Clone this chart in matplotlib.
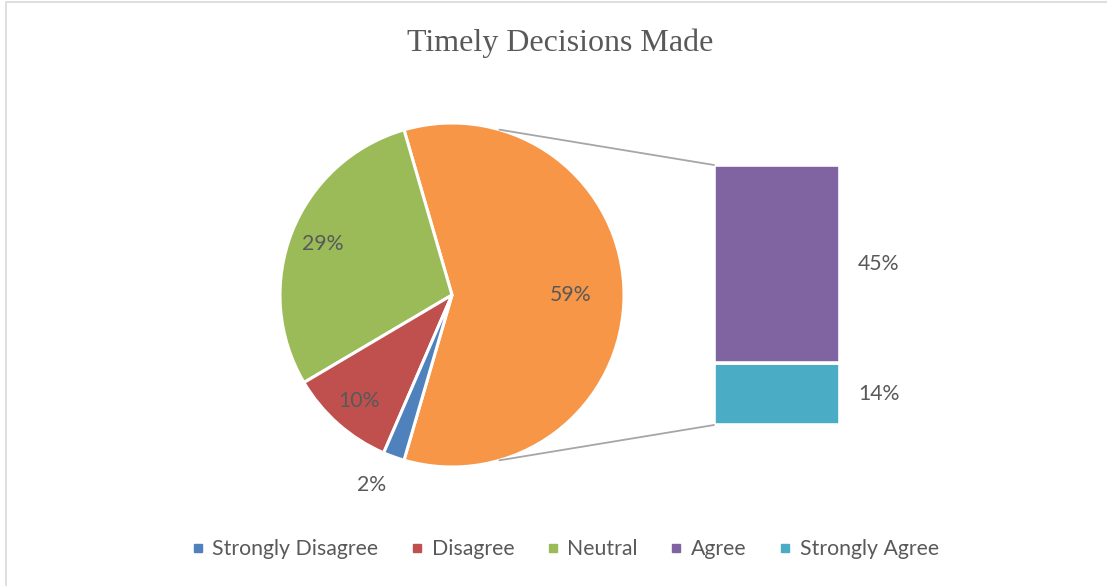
import numpy as np
import matplotlib
matplotlib.use("Agg")
import matplotlib.pyplot as plt
from matplotlib.lines import Line2D
from matplotlib.patches import ConnectionPatch, Rectangle

# survey answers, percent of respondents
categories = ["Strongly Disagree", "Disagree", "Neutral", "Agree", "Strongly Agree"]
values = [2, 10, 29, 45, 14]
colors = ["#4F81BD", "#C0504D", "#9BBB59", "#8064A2", "#4BACC6"]
other_color = "#F79646"

# Agree + Strongly Agree are folded into one pie slice and split out in the bar
split_n = 2
main_vals = values[:-split_n]
split_vals = values[-split_n:]
other_total = sum(split_vals)

text_col = "#595959"
font = "Lato"
fsize = 15.3

fig = plt.figure(figsize=(11.07, 5.86), dpi=100)
W, H = 1107, 586

def fx(px):
    return px / W

def fy(py):
    return 1 - py / H

# outline of the chart area
fig.patches.append(Rectangle((fx(5.5), -0.1), 1.2, fy(1.5) + 0.1, transform=fig.transFigure,
                             fill=False, edgecolor="#D9D9D9", linewidth=1.2))

fig.text(fx(560), fy(43), "Timely Decisions Made", ha="center", va="center",
         family="Liberation Serif", fontsize=23, color=text_col)

# ---- pie ----
cx, cy, r = 452, 295, 172
pie_ax = fig.add_axes([fx(cx - r), fy(cy + r), 2 * r / W, 2 * r / H])
pie_vals = [other_total] + main_vals[::-1]
pie_cols = [other_color] + colors[:len(main_vals)][::-1]
half = other_total / 100 * 180
wedges, _ = pie_ax.pie(pie_vals, colors=pie_cols, startangle=-half, counterclock=True,
                       wedgeprops=dict(edgecolor="white", linewidth=2.2))
pie_ax.set_xlim(-1, 1)
pie_ax.set_ylim(-1, 1)

# label radius per slice: other, neutral, disagree, strongly disagree
label_dist = [0.69, 0.81, 0.82, 1.2]
for w, v, d in zip(wedges, pie_vals, label_dist):
    mid = np.deg2rad((w.theta1 + w.theta2) / 2)
    if d > 1:
        mid -= np.deg2rad(3)
    pie_ax.text(d * np.cos(mid), d * np.sin(mid), f"{v}%", ha="center", va="center",
                family=font, fontsize=fsize, color=text_col)

# ---- bar of the split slice ----
bar_ax = fig.add_axes([fx(714), fy(425), 126 / W, 260 / H])
bottom = 0
for v, c in zip(split_vals[::-1], colors[-split_n:][::-1]):
    bar_ax.bar(0, v, bottom=bottom, width=1.0, color=c, edgecolor="white", linewidth=2.6)
    bar_ax.annotate(f"{v}%", xy=(0.5, bottom + v / 2), xytext=(13, 0), textcoords="offset points",
                    ha="left", va="center", family=font, fontsize=fsize, color=text_col,
                    annotation_clip=False)
    bottom += v
bar_ax.set_xlim(-0.5, 0.5)
bar_ax.set_ylim(0, other_total)
bar_ax.axis("off")

# connector lines from the folded slice to the bar
edge_ang = np.deg2rad(74)
for sgn, yb in [(1, other_total), (-1, 0)]:
    con = ConnectionPatch(xyA=(np.cos(edge_ang), sgn * np.sin(edge_ang)), coordsA=pie_ax.transData,
                          xyB=(-0.5, yb), coordsB=bar_ax.transData,
                          color="#A6A6A6", linewidth=1.3)
    fig.add_artist(con)

handles = [Line2D([], [], marker="s", linestyle="none", markersize=6, color=c,
                  markeredgecolor=c) for c in colors]
fig.legend(handles, categories, loc="center", bbox_to_anchor=(fx(565), fy(549)), ncol=5,
           frameon=False, prop=dict(family=font, size=fsize), labelcolor=text_col,
           handlelength=0.6, handletextpad=0.4, columnspacing=1.5)

fig.savefig("out.png", dpi=100, facecolor="white")
